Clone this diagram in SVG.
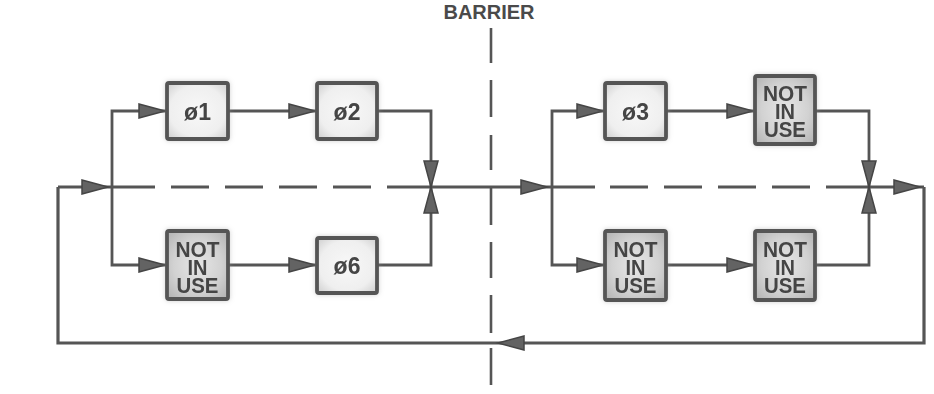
<svg xmlns="http://www.w3.org/2000/svg" xmlns:xlink="http://www.w3.org/1999/xlink" width="934" height="394" viewBox="0 0 934 394">
  <defs>
    <style>
      .ln { stroke: #555555; stroke-width: 2.8; fill: none; stroke-linecap: butt; }
      .loop { stroke: #555555; stroke-width: 3.2; fill: none; }
      .bar { stroke: #555555; stroke-width: 2.6; fill: none; }
      .ah { fill: #636363; stroke: #454545; stroke-width: 1.5; stroke-linejoin: miter; }
      .box { stroke: #555555; stroke-width: 3.8; }
      .phi { fill: url(#gPhi); }
      .niu { fill: url(#gNiu); }
      .t { font-family: "Liberation Sans", Arial, sans-serif; fill: #454545; text-anchor: middle; font-weight: bold; }
      .tp { font-size: 23px; }
      .tn { font-size: 22.5px; }
      .tb { font-size: 20px; fill: #4a4a4a; }
    </style>
    <radialGradient id="gPhi" cx="50%" cy="50%" r="65%">
      <stop offset="0" stop-color="#f8f8f8"/>
      <stop offset="0.7" stop-color="#efefef"/>
      <stop offset="1" stop-color="#d4d4d4"/>
    </radialGradient>
    <radialGradient id="gNiu" cx="50%" cy="50%" r="65%">
      <stop offset="0" stop-color="#e6e6e6"/>
      <stop offset="0.6" stop-color="#d2d2d2"/>
      <stop offset="1" stop-color="#b6b6b6"/>
    </radialGradient>
    <filter id="halo" x="-20%" y="-20%" width="140%" height="140%">
      <feGaussianBlur in="SourceAlpha" stdDeviation="2.5" result="b"/>
      <feFlood flood-color="#999999" flood-opacity="0.45"/>
      <feComposite in2="b" operator="in" result="s"/>
      <feMerge><feMergeNode in="s"/><feMergeNode in="SourceGraphic"/></feMerge>
    </filter>
    <path id="ah" class="ah" d="M0,0 L-26,-7 L-26,7 Z"/>
  </defs>

  <rect width="934" height="394" fill="#ffffff"/>

  <g id="barrier">
    <text class="t tb" x="489" y="19">BARRIER</text>
    <g class="bar">
      <line x1="491" y1="28" x2="491" y2="63"/>
      <line x1="491" y1="80" x2="491" y2="117"/>
      <line x1="491" y1="135" x2="491" y2="170"/>
      <line x1="491" y1="186" x2="491" y2="225"/>
      <line x1="491" y1="242" x2="491" y2="278"/>
      <line x1="491" y1="295" x2="491" y2="333"/>
      <line x1="491" y1="348" x2="491" y2="385"/>
    </g>
  </g>

  <g id="connectors">
    <!-- main line -->
    <line class="ln" x1="58" y1="187" x2="155" y2="187"/>
    <line class="ln" x1="171" y1="187" x2="209" y2="187"/>
    <line class="ln" x1="225" y1="187" x2="263" y2="187"/>
    <line class="ln" x1="279" y1="187" x2="317" y2="187"/>
    <line class="ln" x1="333" y1="187" x2="371" y2="187"/>
    <line class="ln" x1="387" y1="187" x2="595" y2="187"/>
    <line class="ln" x1="610" y1="187" x2="648" y2="187"/>
    <line class="ln" x1="664" y1="187" x2="702" y2="187"/>
    <line class="ln" x1="718" y1="187" x2="756" y2="187"/>
    <line class="ln" x1="772" y1="187" x2="810" y2="187"/>
    <line class="ln" x1="826" y1="187" x2="924" y2="187"/>
    <!-- outer return loop -->
    <path class="loop" d="M924,187 V343 H58 V187"/>
    <!-- left split -->
    <path class="ln" d="M166,111 H112 V265 H166"/>
    <line class="ln" x1="227" y1="111" x2="317" y2="111"/>
    <line class="ln" x1="227" y1="265" x2="317" y2="265"/>
    <path class="ln" d="M377,111 H431 V265 H377"/>
    <!-- right split -->
    <path class="ln" d="M605,111 H552 V265 H605"/>
    <line class="ln" x1="666" y1="111" x2="755" y2="111"/>
    <line class="ln" x1="666" y1="265" x2="755" y2="265"/>
    <path class="ln" d="M815,111 H869 V265 H815"/>
    <!-- arrowheads -->
    <use xlink:href="#ah" transform="translate(108,187)"/>
    <use xlink:href="#ah" transform="translate(165,111)"/>
    <use xlink:href="#ah" transform="translate(315,111)"/>
    <use xlink:href="#ah" transform="translate(165,265)"/>
    <use xlink:href="#ah" transform="translate(315,265)"/>
    <use xlink:href="#ah" transform="translate(431,187) rotate(90)"/>
    <use xlink:href="#ah" transform="translate(431,187) rotate(-90)"/>
    <use xlink:href="#ah" transform="translate(547,187)"/>
    <use xlink:href="#ah" transform="translate(603,111)"/>
    <use xlink:href="#ah" transform="translate(753,111)"/>
    <use xlink:href="#ah" transform="translate(603,265)"/>
    <use xlink:href="#ah" transform="translate(753,265)"/>
    <use xlink:href="#ah" transform="translate(869,187) rotate(90)"/>
    <use xlink:href="#ah" transform="translate(869,187) rotate(-90)"/>
    <use xlink:href="#ah" transform="translate(920,187)"/>
    <use xlink:href="#ah" transform="translate(498,343) rotate(180)"/>
  </g>

  <g id="node-phi1" filter="url(#halo)">
    <rect class="box phi" x="167" y="83" width="61" height="56" rx="2"/>
    <text class="t tp" x="197.5" y="119.5">ø1</text>
  </g>
  <g id="node-phi2" filter="url(#halo)">
    <rect class="box phi" x="317" y="83" width="60" height="56" rx="2"/>
    <text class="t tp" x="347" y="119.5">ø2</text>
  </g>
  <g id="node-niu-left" filter="url(#halo)">
    <rect class="box niu" x="167" y="231" width="61" height="68" rx="2"/>
    <text class="t tn"><tspan x="197.5" y="257" textLength="44" lengthAdjust="spacingAndGlyphs">NOT</tspan><tspan x="197.5" y="275" textLength="20" lengthAdjust="spacingAndGlyphs">IN</tspan><tspan x="197.5" y="293" textLength="42" lengthAdjust="spacingAndGlyphs">USE</tspan></text>
  </g>
  <g id="node-phi6" filter="url(#halo)">
    <rect class="box phi" x="317" y="238" width="60" height="55" rx="2"/>
    <text class="t tp" x="347" y="274">ø6</text>
  </g>
  <g id="node-phi3" filter="url(#halo)">
    <rect class="box phi" x="605" y="83" width="61" height="56" rx="2"/>
    <text class="t tp" x="635.5" y="119.5">ø3</text>
  </g>
  <g id="node-niu-top-right" filter="url(#halo)">
    <rect class="box niu" x="755" y="76" width="60" height="68" rx="2"/>
    <text class="t tn"><tspan x="785" y="101" textLength="44" lengthAdjust="spacingAndGlyphs">NOT</tspan><tspan x="785" y="119" textLength="20" lengthAdjust="spacingAndGlyphs">IN</tspan><tspan x="785" y="137" textLength="42" lengthAdjust="spacingAndGlyphs">USE</tspan></text>
  </g>
  <g id="node-niu-bottom-mid" filter="url(#halo)">
    <rect class="box niu" x="605" y="231" width="61" height="69" rx="2"/>
    <text class="t tn"><tspan x="635.5" y="257" textLength="44" lengthAdjust="spacingAndGlyphs">NOT</tspan><tspan x="635.5" y="275" textLength="20" lengthAdjust="spacingAndGlyphs">IN</tspan><tspan x="635.5" y="293" textLength="42" lengthAdjust="spacingAndGlyphs">USE</tspan></text>
  </g>
  <g id="node-niu-bottom-right" filter="url(#halo)">
    <rect class="box niu" x="755" y="231" width="60" height="69" rx="2"/>
    <text class="t tn"><tspan x="785" y="257" textLength="44" lengthAdjust="spacingAndGlyphs">NOT</tspan><tspan x="785" y="275" textLength="20" lengthAdjust="spacingAndGlyphs">IN</tspan><tspan x="785" y="293" textLength="42" lengthAdjust="spacingAndGlyphs">USE</tspan></text>
  </g>
</svg>
